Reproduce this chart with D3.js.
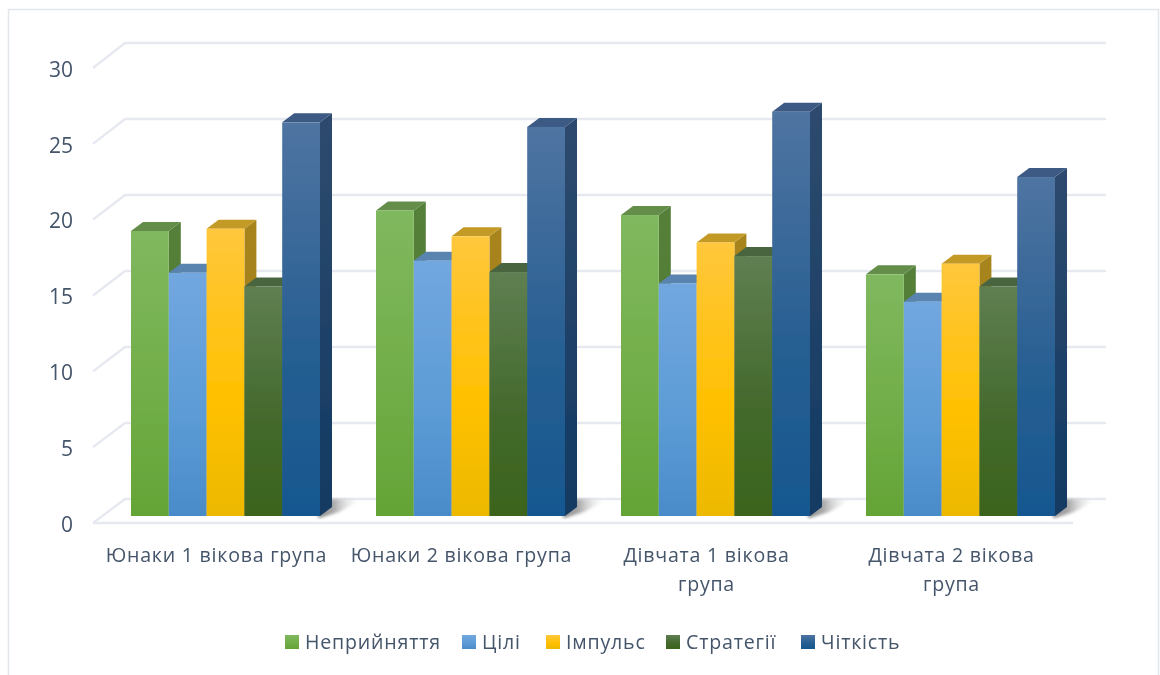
<!DOCTYPE html>
<html><head><meta charset="utf-8">
<script src="https://cdn.jsdelivr.net/npm/d3@7"></script>
<style>html,body{margin:0;background:#fff}svg{display:block}text{font-family:"Open Sans",sans-serif;fill:#44546a}</style>
</head><body><svg id="c" width="1160" height="675"></svg>
<script>
const categories=[["Юнаки 1 вікова група"],["Юнаки 2 вікова група"],["Дівчата 1 вікова","група"],["Дівчата 2 вікова","група"]];
const seriesNames=["Неприйняття","Цілі","Імпульс","Стратегії","Чіткість"];
const nepryiniattia=[18.75,20.1,19.8,15.9];
const tsili=[16,16.8,15.3,14.1];
const impuls=[18.9,18.4,18,16.6];
const stratehii=[15.1,16.05,17.1,15.1];
const chitkist=[25.9,25.6,26.6,22.3];
const values=[nepryiniattia,tsili,impuls,stratehii,chitkist];
const tickValues=[0,5,10,15,20,25,30];
const palette=[
 {t:"#80b85f",m:"#70ad47",b:"#64a436",top:"#638d4a",s1:"#55803a",s2:"#4a7a2a"},
 {t:"#72a7e0",m:"#5b9bd5",b:"#4a8bca",top:"#5a84b0",s1:"#4a74a0",s2:"#38699a"},
 {t:"#ffc73c",m:"#ffc000",b:"#ecb900",top:"#c49a28",s1:"#a8841f",s2:"#9c7c10"},
 {t:"#5f7f52",m:"#43682b",b:"#3b641d",top:"#4a6540",s1:"#3f5a30",s2:"#2c4a14"},
 {t:"#4f74a2",m:"#255e91",b:"#175790",top:"#3c5a84",s1:"#2e4a6e",s2:"#123a62"}];

const svg=d3.select("#c");
const defs=svg.append("defs");
const soft=defs.append("filter").attr("id","soft").attr("x","-2%").attr("y","-2%").attr("width","104%").attr("height","104%");
soft.append("feGaussianBlur").attr("stdDeviation",0.6);
const shBlur=defs.append("filter").attr("id","sh").attr("x","-30%").attr("y","-30%").attr("width","160%").attr("height","160%");
shBlur.append("feGaussianBlur").attr("stdDeviation",1.6);
const shG=defs.append("linearGradient").attr("id","shg");
shG.append("stop").attr("offset",0).attr("stop-color","#8c8c8c");
shG.append("stop").attr("offset",0.35).attr("stop-color","#a8a8a8");
shG.append("stop").attr("offset",1).attr("stop-color","#ffffff").attr("stop-opacity",0);
palette.forEach((p,i)=>{
  const g=defs.append("linearGradient").attr("id","f"+i).attr("x1",0).attr("x2",0).attr("y1",0).attr("y2",1);
  g.append("stop").attr("offset",0).attr("stop-color",p.t);
  g.append("stop").attr("offset",0.6).attr("stop-color",p.m);
  g.append("stop").attr("offset",1).attr("stop-color",p.b);
  const s=defs.append("linearGradient").attr("id","s"+i).attr("x1",0).attr("x2",0).attr("y1",0).attr("y2",1);
  s.append("stop").attr("offset",0).attr("stop-color",p.s1);
  s.append("stop").attr("offset",1).attr("stop-color",p.s2);
});

const root=svg.append("g").attr("filter","url(#soft)");
root.append("path").attr("d","M8.5,675V9.5H1158.5V675").attr("fill","none").attr("stroke","#e2e5ea").attr("stroke-width",1.5);

const yFront=d3.scaleLinear().domain([0,30]).range([523,68]);
const yBack=d3.scaleLinear().domain([0,30]).range([499,43]);
const yBar=d3.scaleLinear().domain([0,30]).range([516,60]);
const xBar=d3.scaleBand().domain(d3.range(5)).range([0,189]);
const dx=12,dy=9;
const grid="#e6e9f0";

root.append("g").selectAll("path").data(tickValues).join("path")
 .attr("d",v=>`M93,${yFront(v)}L125,${yBack(v)}H1106`)
 .attr("fill","none").attr("stroke",grid).attr("stroke-width",2.4);
root.append("path").attr("d",`M93,${yFront(0)}H1073`).attr("fill","none").attr("stroke",grid).attr("stroke-width",2.4);

const groups=root.append("g").selectAll("g").data(d3.range(4)).join("g")
 .attr("transform",g=>`translate(${131+g*245},0)`);
groups.append("path")
 .attr("d",`M186,517L198,500L201,499L232,499L208,512L189,518Z`)
 .attr("fill","url(#shg)").attr("filter","url(#sh)");

groups.each(function(g){
  const sel=d3.select(this);
  values.forEach((ser,i)=>{
    const v=ser[g],x=xBar(i),w=xBar.bandwidth(),y=yBar(v),y0=yBar(0);
    sel.append("path").attr("d",`M${x+w},${y}l${dx},${-dy}V${y0-dy}L${x+w},${y0}Z`).attr("fill",`url(#s${i})`);
    sel.append("path").attr("d",`M${x},${y}l${dx},${-dy}h${w}l${-dx},${dy}Z`).attr("fill",palette[i].top);
    sel.append("rect").attr("x",x).attr("y",y).attr("width",w).attr("height",y0-y).attr("fill",`url(#f${i})`);
  });
});

const ax=root.append("g").attr("transform","translate(73,1.5)").call(d3.axisLeft(yFront).tickValues(tickValues).tickSize(0).tickPadding(0));
ax.select(".domain").remove();
ax.selectAll("text").attr("font-size",21).attr("font-family",'"Open Sans",sans-serif').style("fill","#44546a");

const catG=root.append("g").selectAll("text").data(categories).join("text")
 .attr("text-anchor","middle").attr("font-size",19.6).attr("letter-spacing",0.75);
catG.selectAll("tspan").data((d,i)=>d.map(t=>({t,i}))).join("tspan")
 .attr("x",d=>[216.5,461.5,706.5,951.5][d.i]).attr("y",(d,j)=>562+j*29).text(d=>d.t);

const legX=[285,462,546,666,801];
const lg=root.append("g").selectAll("g").data(seriesNames).join("g").attr("transform",(d,i)=>`translate(${legX[i]},0)`);
lg.append("rect").attr("y",635).attr("width",14).attr("height",14).attr("fill",(d,i)=>`url(#f${i})`);
lg.append("text").attr("x",20).attr("y",649).attr("font-size",19.6).attr("letter-spacing",0.8).text(d=>d);
</script></body></html>
